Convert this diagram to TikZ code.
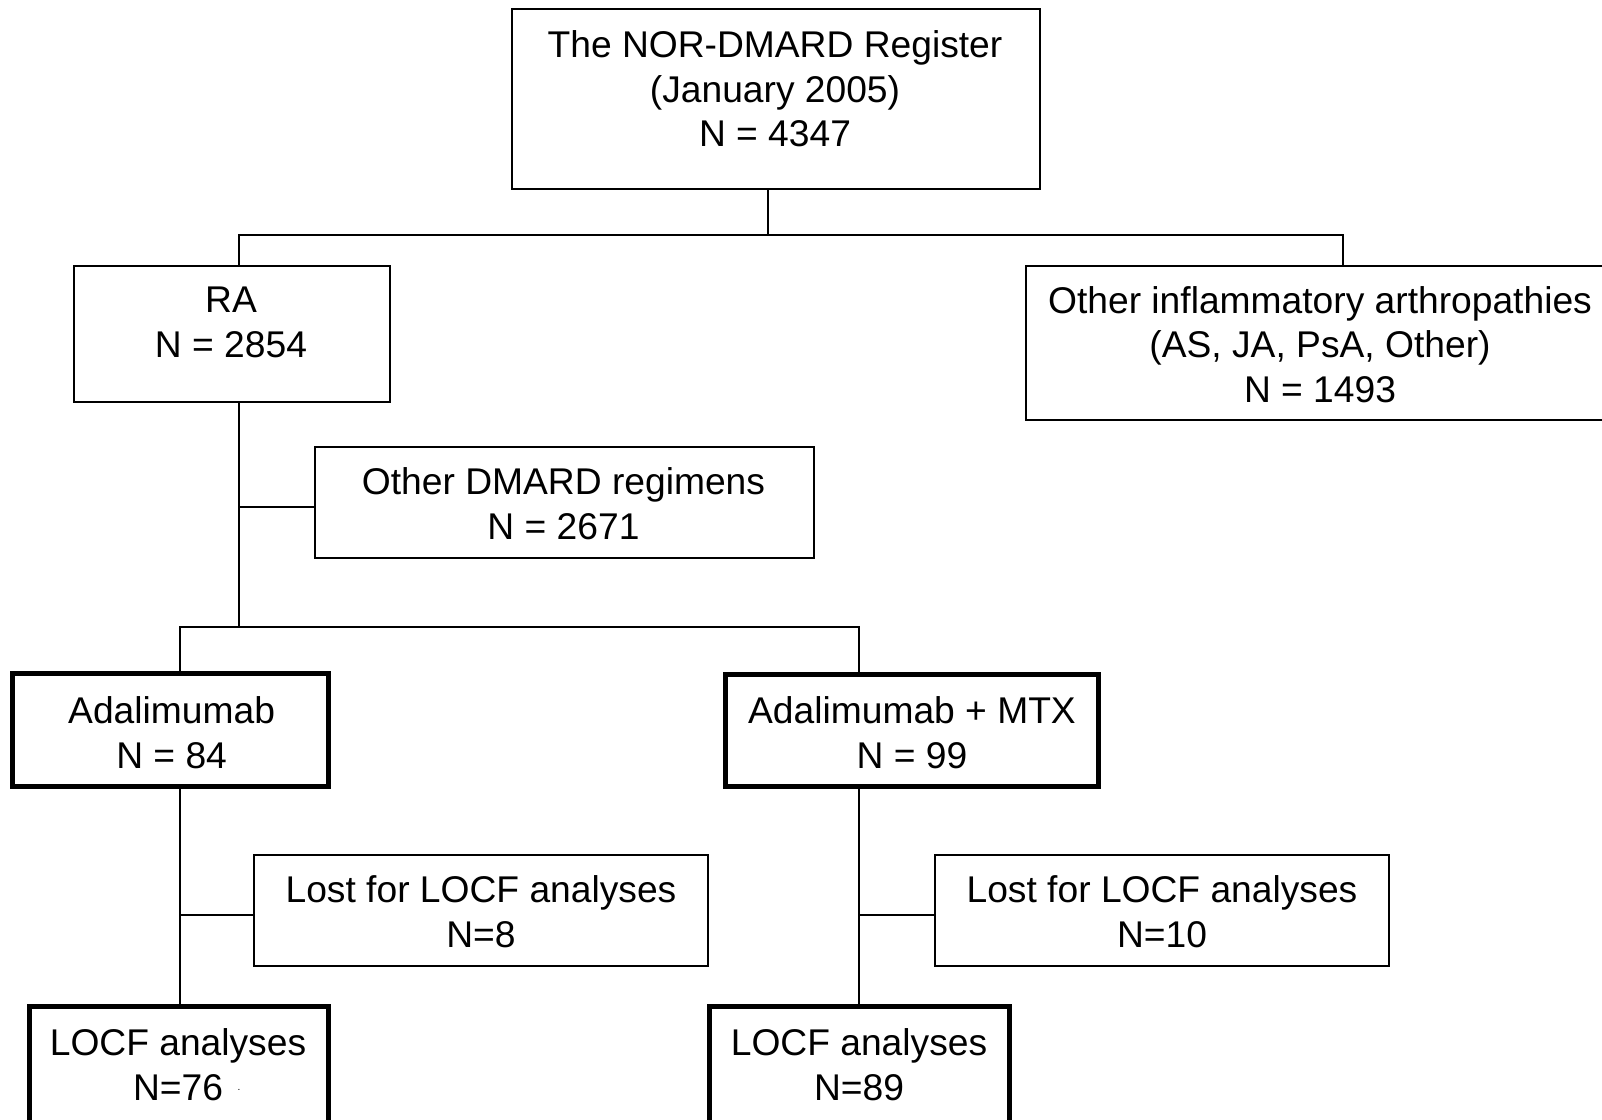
\documentclass[tikz,border=0pt]{standalone}
\usepackage{fontspec}
\setmainfont{Liberation Sans}
\begin{document}
\begin{tikzpicture}[x=1pt,y=-1pt,
  box/.style={draw=black,line width=1.6pt,rectangle,inner sep=0pt},
  thickbox/.style={draw=black,line width=5pt,rectangle,inner sep=0pt},
  txt/.style={align=center,inner sep=0pt,font=\fontsize{37.2}{44.5}\selectfont},
  conn/.style={draw=black,line width=1.6pt}]
\useasboundingbox (0,0) rectangle (1602,1119);
\clip (0,0) rectangle (1602,1119);
\fill[white] (0,0) rectangle (1602,1119);
% boxes
\node[box,minimum width=528pt,minimum height=180pt] (top) at (776,99) {};
\node[box,minimum width=316pt,minimum height=136pt] (ra) at (232,334) {};
\node[box,minimum width=634pt,minimum height=154pt] (oth) at (1343,343) {};
\node[box,minimum width=499pt,minimum height=111pt] (dmard) at (564.5,502.5) {};
\node[thickbox,minimum width=316pt,minimum height=113pt] (adal) at (170.5,730) {};
\node[thickbox,minimum width=373pt,minimum height=112pt] (mtx) at (912,730.5) {};
\node[box,minimum width=454pt,minimum height=111pt] (lost1) at (481,910.5) {};
\node[box,minimum width=454pt,minimum height=111pt] (lost2) at (1162,910.5) {};
\node[thickbox,minimum width=299.5pt,minimum height=140pt] (locf1) at (178.75,1076.5) {};
\node[thickbox,minimum width=300pt,minimum height=140pt] (locf2) at (859.5,1076.5) {};
% texts
\node[txt] (ttop) at (775,89) {The NOR-DMARD Register\\(January 2005)\\N = 4347};
\node[txt] (tra) at (231,322.5) {RA\\N = 2854};
\node[txt] (toth) at (1320,344.5) {Other inflammatory arthropathies\\(AS, JA, PsA, Other)\\N = 1493};
\node[txt] (tdmard) at (563.5,503.5) {Other DMARD regimens\\N = 2671};
\node[txt] (tadal) at (171.6,732.5) {Adalimumab\\N = 84};
\node[txt] (tmtx) at (912,732.5) {Adalimumab + MTX\\N = 99};
\node[txt] (tlost1) at (481,911.5) {Lost for LOCF analyses\\N=8};
\node[txt] (tlost2) at (1162,911.5) {Lost for LOCF analyses\\N=10};
\node[txt] (tlocf1) at (178,1064.5) {LOCF analyses\\N=76};
\node[txt] (tlocf2) at (859,1064.5) {LOCF analyses\\N=89};
\node[inner sep=0pt,font=\fontsize{10}{10}\selectfont] (dot) at (239,1090) {.};
% connector coordinates
\coordinate (cTop) at (768,235);
\coordinate (cRA) at (239,235);
\coordinate (cOth) at (1343,235);
\coordinate (bD) at (239,507);
\coordinate (sL) at (180,627);
\coordinate (sR) at (859,627);
\coordinate (bL) at (180,915);
\coordinate (bR) at (859,915);
% connectors
\draw[conn] (top.south -| cTop) -- (cTop);
\draw[conn] (cRA |- ra.north) -- (cRA) -- (cOth) -- (cOth |- oth.north);
\draw[conn] (cRA |- ra.south) -- (sL -| cRA);
\draw[conn] (bD) -- (bD -| dmard.west);
\draw[conn] (sL |- adal.north) -- (sL) -- (sR) -- (sR |- mtx.north);
\draw[conn] (sL |- adal.south) -- (sL |- locf1.north);
\draw[conn] (sR |- mtx.south) -- (sR |- locf2.north);
\draw[conn] (bL) -- (bL -| lost1.west);
\draw[conn] (bR) -- (bR -| lost2.west);
\end{tikzpicture}
\end{document}
